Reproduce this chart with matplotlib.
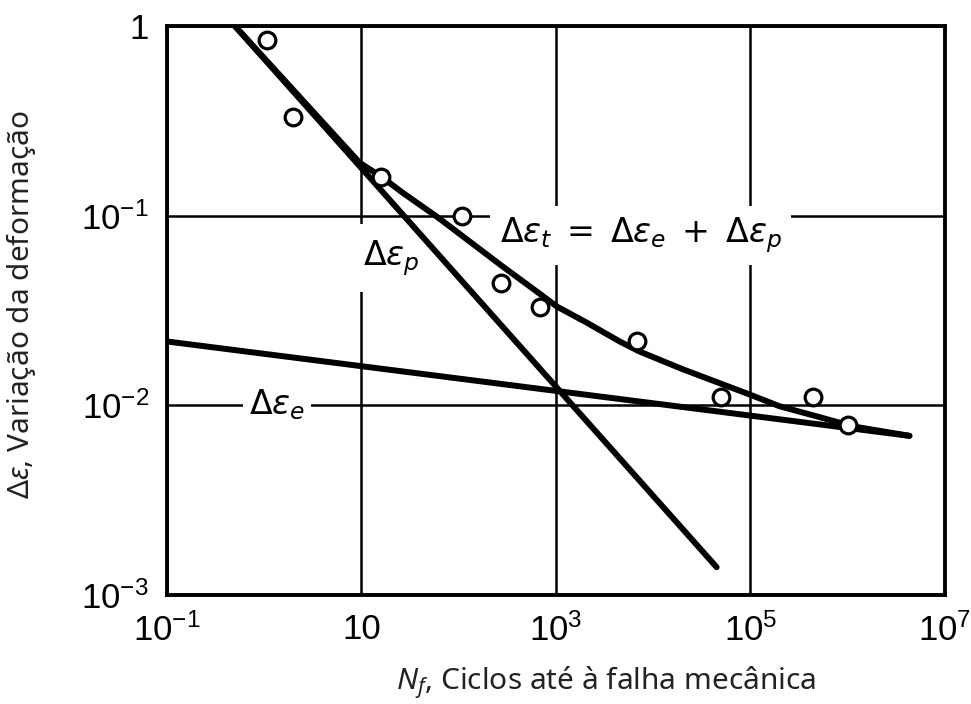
import matplotlib.pyplot as plt
from matplotlib.ticker import FixedLocator, FixedFormatter, NullLocator

plt.rcParams['mathtext.fontset'] = 'custom'
plt.rcParams['mathtext.rm'] = 'Noto Sans'
plt.rcParams['mathtext.it'] = 'Noto Sans:italic'

# pontos experimentais (ciclos até à falha, variação da deformação)
ciclos = [1.07, 2.0, 15.9, 107, 275, 694, 6900, 50000, 437000, 1.0e6]
deform = [0.84, 0.33, 0.16, 0.10, 0.044, 0.033, 0.0217, 0.0111, 0.011, 0.00785]

# reta elástica
el_n = [0.1, 4.33e6]
el_e = [0.0217, 0.0069]

# reta plástica
pl_n = [0.5, 45000]
pl_e = [1.0, 0.0014]

# curva total (lida ao longo da curva)
tot_n = [0.5, 9.6, 16.2, 26.6, 59.6, 130, 284, 635, 1020, 2070, 4530, 7260,
         20100, 98200, 200000, 479000, 1.12e6, 4.33e6]
tot_e = [1.0, 0.190, 0.160, 0.132, 0.0988, 0.0730, 0.0539, 0.0398, 0.0332, 0.0273,
         0.0217, 0.0192, 0.0155, 0.0114, 0.00988, 0.00875, 0.00775, 0.0069]

# ticks
xticks = [0.1, 10, 1e3, 1e5, 1e7]
xlabels = [r'$\mathregular{10^{-1}}$', '10', r'$\mathregular{10^3}$',
           r'$\mathregular{10^5}$', r'$\mathregular{10^7}$']
yticks = [1e-3, 1e-2, 1e-1, 1]
ylabels = [r'$\mathregular{10^{-3}}$', r'$\mathregular{10^{-2}}$',
           r'$\mathregular{10^{-1}}$', '1']

fig = plt.figure(figsize=(9.71, 7.04), dpi=100)
ax = fig.add_axes([0.172, 0.155, 0.801, 0.808])
ax.set_xscale('log')
ax.set_yscale('log')
ax.set_xlim(0.1, 1e7)
ax.set_ylim(1e-3, 1)

ax.xaxis.set_major_locator(FixedLocator(xticks))
ax.xaxis.set_major_formatter(FixedFormatter(xlabels))
ax.xaxis.set_minor_locator(NullLocator())
ax.yaxis.set_major_locator(FixedLocator(yticks))
ax.yaxis.set_major_formatter(FixedFormatter(ylabels))
ax.yaxis.set_minor_locator(NullLocator())

for lab in ax.get_xticklabels() + ax.get_yticklabels():
    lab.set_family('Liberation Sans')
    lab.set_fontsize(25)
ax.tick_params(length=0, pad=13)

ax.grid(True, color='black', lw=1.8)
ax.set_axisbelow(True)
for s in ax.spines.values():
    s.set_linewidth(2.8)

# linhas
ax.plot(el_n, el_e, color='black', lw=4.3, solid_capstyle='round', zorder=3)
ax.plot(pl_n, pl_e, color='black', lw=4.3, solid_capstyle='round', zorder=3)
ax.plot(tot_n, tot_e, color='black', lw=4.3, solid_capstyle='round',
        solid_joinstyle='round', zorder=3)
ax.plot(ciclos, deform, 'o', ms=12, mfc='white', mec='black', mew=2.3, zorder=4)

# rótulos das curvas
ax.text(7450, 0.0785, r'$\Delta\epsilon_t\;=\;\Delta\epsilon_e\;+\;\Delta\epsilon_p$',
        fontsize=24, ha='center', va='center', math_fontfamily='dejavusans',
        bbox=dict(facecolor='white', edgecolor='none', pad=7), zorder=2)
ax.text(20.4, 0.0600, r'$\Delta\epsilon_p$', fontsize=24, ha='center', va='center',
        math_fontfamily='dejavusans',
        bbox=dict(facecolor='white', edgecolor='none', pad=10), zorder=2)
ax.text(1.35, 0.0101, r'$\Delta\epsilon_e$', fontsize=24, ha='center', va='center',
        math_fontfamily='dejavusans',
        bbox=dict(facecolor='white', edgecolor='none', pad=4), zorder=2)

# títulos dos eixos
lblcolor = '#222222'
ax.set_xlabel(r'$\mathit{N_f}$, Ciclos até à falha mecânica', fontsize=21.5,
              family='Noto Sans', color=lblcolor, va='center')
ax.xaxis.set_label_coords(0.564, -0.155)
ax.set_ylabel(r'$\mathit{\Delta\epsilon}$, Variação da deformação', fontsize=21.5,
              family='Noto Sans', color=lblcolor)
ax.yaxis.set_label_coords(-0.166, 0.51)

fig.savefig('out.png', dpi=100)
